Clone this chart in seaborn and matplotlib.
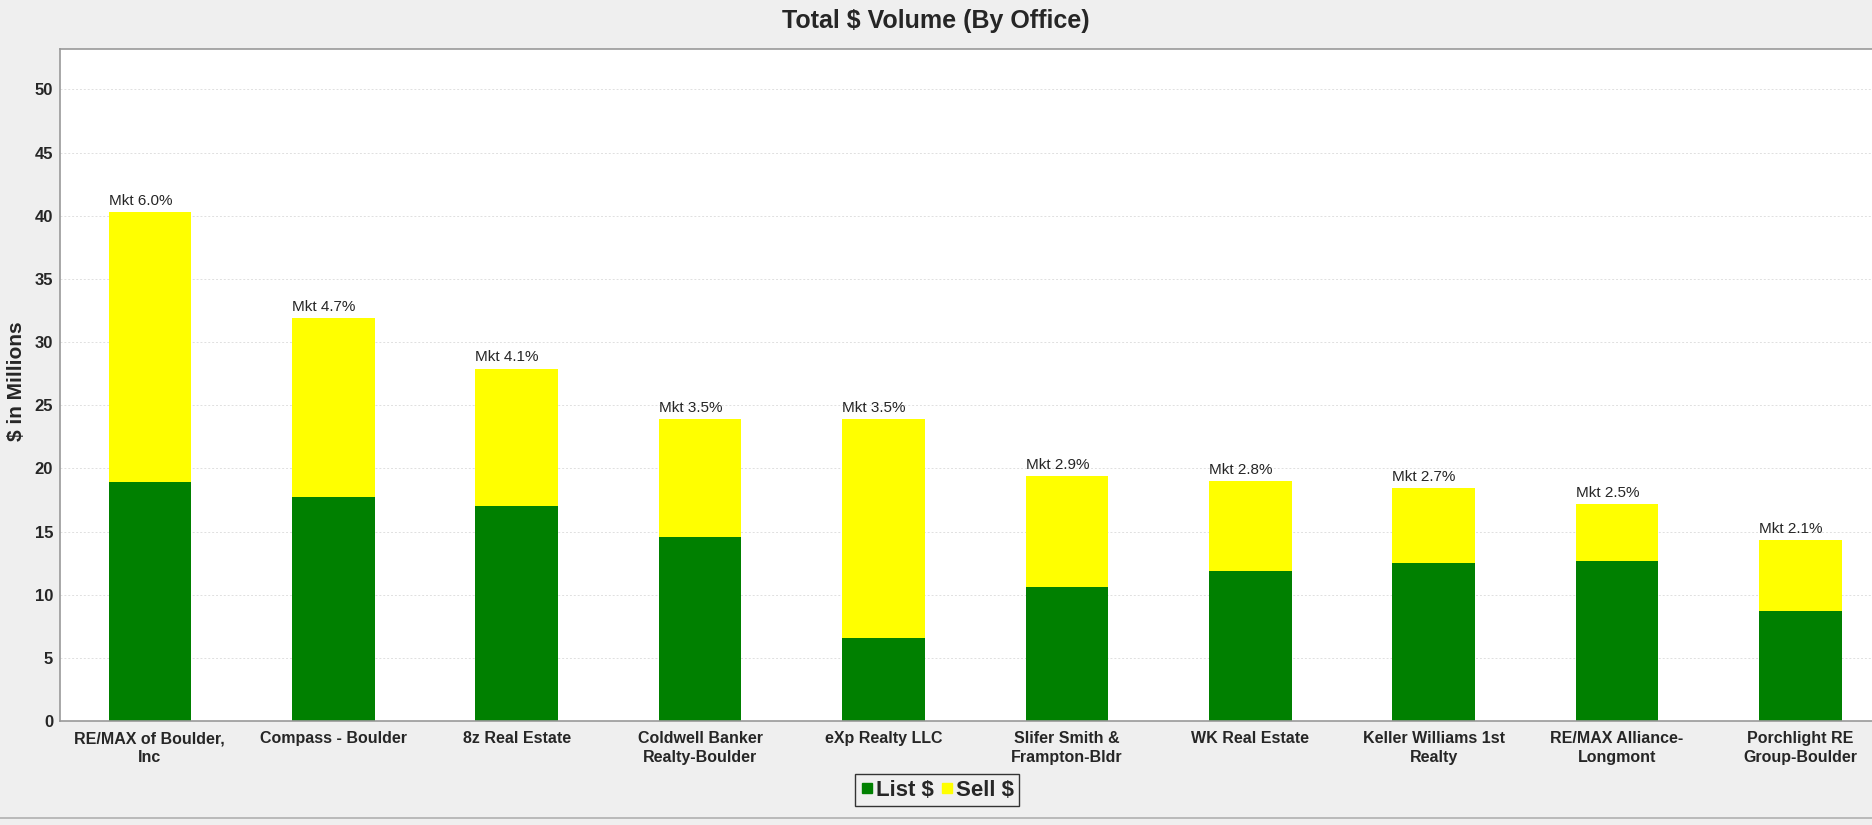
import pandas as pd
import matplotlib.pyplot as plt
import seaborn as sns
from matplotlib.lines import Line2D

# values ($ in millions)
offices = ["RE/MAX of Boulder, Inc", "Compass - Boulder", "8z Real Estate",
           "Coldwell Banker Realty-Boulder", "eXp Realty LLC",
           "Slifer Smith & Frampton-Bldr", "WK Real Estate",
           "Keller Williams 1st Realty", "RE/MAX Alliance-Longmont",
           "Porchlight RE Group-Boulder"]
tick_labels = ["RE/MAX of Boulder,\nInc", "Compass - Boulder", "8z Real Estate",
               "Coldwell Banker\nRealty-Boulder", "eXp Realty LLC",
               "Slifer Smith &\nFrampton-Bldr", "WK Real Estate",
               "Keller Williams 1st\nRealty", "RE/MAX Alliance-\nLongmont",
               "Porchlight RE\nGroup-Boulder"]
list_vals = [18.9, 17.7, 17.05, 14.6, 6.6, 10.6, 11.85, 12.5, 12.65, 8.7]
sell_vals = [21.4, 14.2, 10.85, 9.3, 17.3, 8.8, 7.15, 5.95, 4.55, 5.6]
mkt_share = [6.0, 4.7, 4.1, 3.5, 3.5, 2.9, 2.8, 2.7, 2.5, 2.1]

df = pd.DataFrame({"office": offices, "list": list_vals, "sell": sell_vals})
df["total"] = df["list"] + df["sell"]

GREEN = "#008000"
YELLOW = "#ffff00"
BG = "#efefef"

sns.set_style("white")
plt.rcParams["font.family"] = ["Liberation Sans", "DejaVu Sans"]

fig = plt.figure(figsize=(18.72, 8.25), dpi=100, facecolor=BG)
ax = fig.add_axes([60 / 1872, 1 - 721 / 825, 1 - 60 / 1872, (721 - 49) / 825])
ax.set_facecolor("white")

# stacked bars: total in yellow, list part in green on top of it
sns.barplot(data=df, x="office", y="total", color=YELLOW, saturation=1,
            width=0.45, linewidth=0, ax=ax)
sns.barplot(data=df, x="office", y="list", color=GREEN, saturation=1,
            width=0.45, linewidth=0, ax=ax)

for i, (tot, m) in enumerate(zip(df["total"], mkt_share)):
    ax.annotate(f"Mkt {m:.1f}%", xy=(i - 0.225, tot), xytext=(0, 3),
                textcoords="offset points", ha="left", va="bottom", fontsize=11)

ax.set_xlim(-0.49, 9.39)
ax.set_ylim(0, 53.2)
ax.set_yticks(range(0, 51, 5))
ax.set_xticks(range(len(offices)))
ax.set_xticklabels(tick_labels, fontsize=11.5, fontweight="bold", linespacing=1.3)
for lab in ax.get_yticklabels():
    lab.set_fontweight("bold")
    lab.set_fontsize(12)
ax.tick_params(axis="x", length=3, color="#999999", pad=4.5)
ax.tick_params(axis="y", length=2, color="#999999", pad=3)
ax.set_xlabel("")
ax.set_ylabel("")

ax.yaxis.grid(True, linestyle=(0, (2, 2)), color="#e0e0e0", linewidth=0.7)
ax.set_axisbelow(True)
for side in ["left", "bottom", "top"]:
    ax.spines[side].set_color("#999999")
    ax.spines[side].set_linewidth(1.2)
ax.spines["right"].set_visible(False)

fig.text(0.5, 1 - 21 / 825, "Total $ Volume (By Office)", ha="center", va="center",
         fontsize=18, fontweight="bold")
fig.text(17 / 1872, 1 - 381 / 825, "$ in Millions", rotation=90, ha="center",
         va="center", fontsize=15, fontweight="bold")

handles = [Line2D([], [], marker="s", linestyle="", color=GREEN, markersize=7),
           Line2D([], [], marker="s", linestyle="", color=YELLOW, markersize=7)]
leg = fig.legend(handles, ["List $", "Sell $"], loc="center",
                 bbox_to_anchor=(937 / 1872, 1 - 790 / 825), ncol=2,
                 frameon=True, fancybox=False, edgecolor="#333333",
                 facecolor=BG, framealpha=1, handlelength=0.6, handletextpad=0.1,
                 columnspacing=0.3, borderpad=0.25, borderaxespad=0,
                 prop={"size": 16, "weight": "bold"})
leg.get_frame().set_linewidth(1.0)

fig.add_artist(Line2D([0, 1], [1 - 818 / 825, 1 - 818 / 825], color="#b0b0b0",
                      linewidth=1.2, transform=fig.transFigure))

fig.savefig("out.png", dpi=100, facecolor=BG)
